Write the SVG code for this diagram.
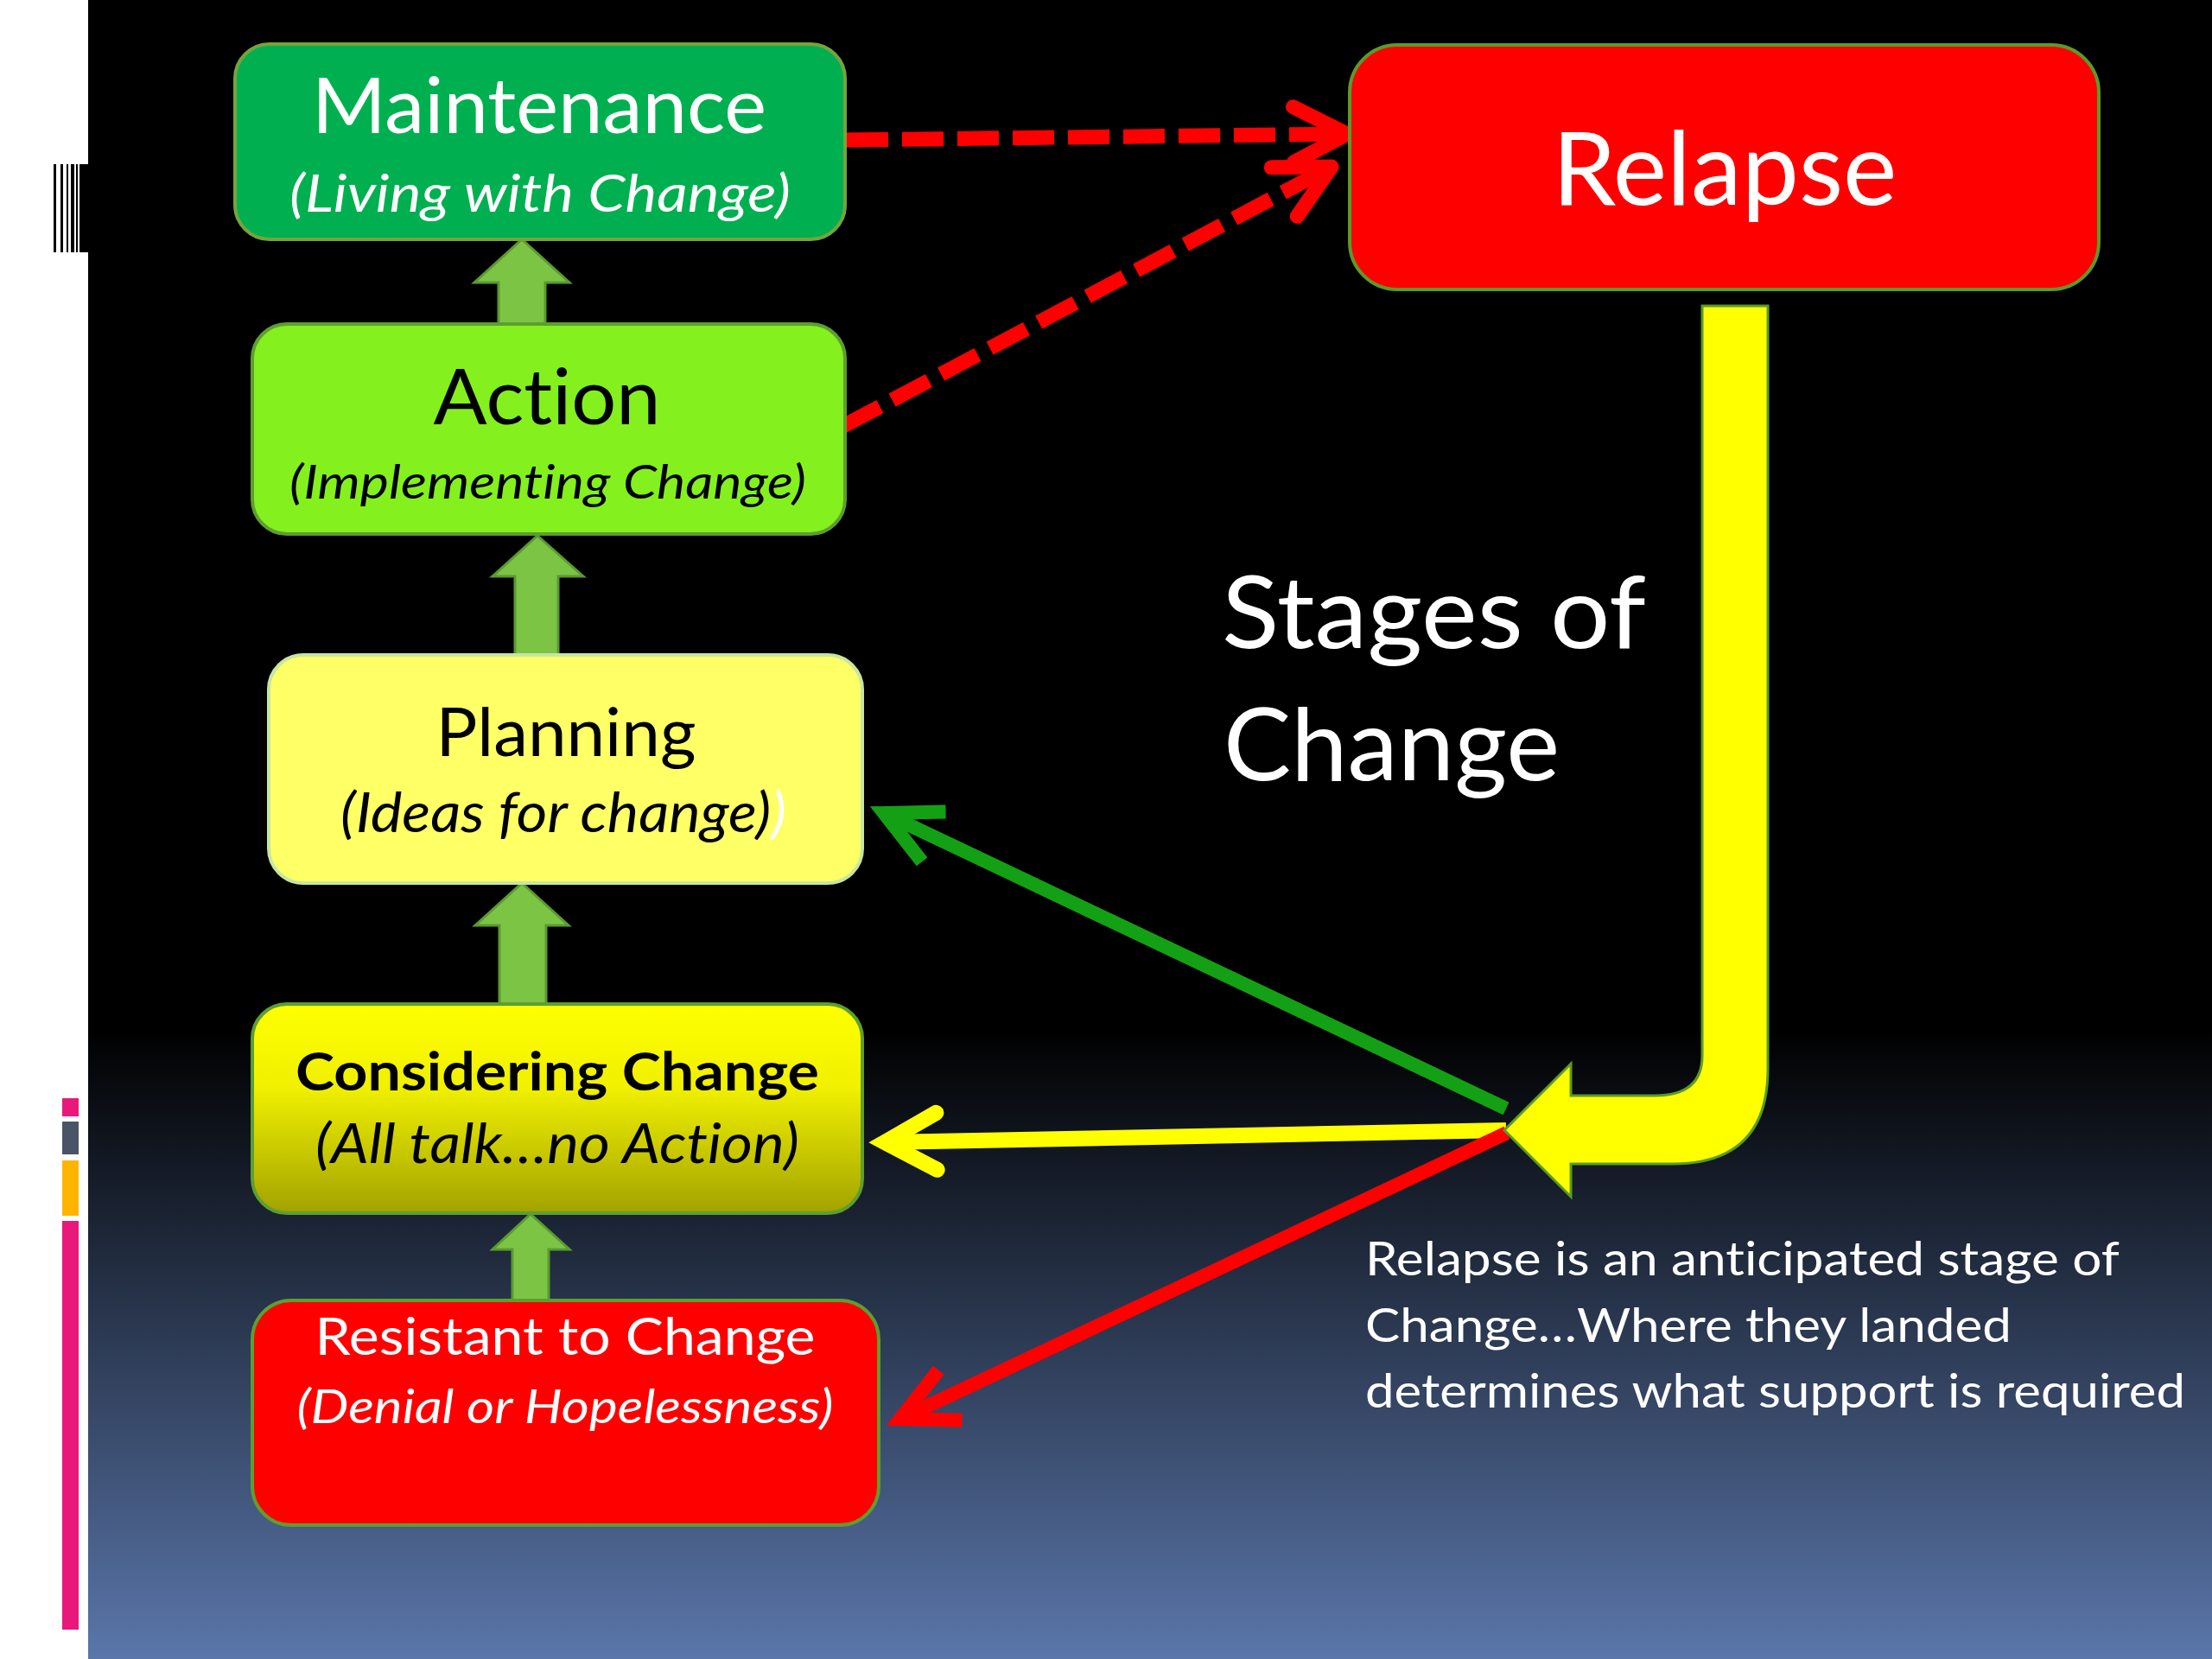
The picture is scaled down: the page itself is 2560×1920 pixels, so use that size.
<svg xmlns="http://www.w3.org/2000/svg" width="2560" height="1920" viewBox="0 0 2560 1920">
<defs>
  <linearGradient id="bg" x1="0" y1="0" x2="0" y2="1920" gradientUnits="userSpaceOnUse">
    <stop offset="0" stop-color="#000000"/>
    <stop offset="0.62" stop-color="#000000"/>
    <stop offset="1" stop-color="#5a76aa"/>
  </linearGradient>
  <linearGradient id="consider" x1="0" y1="1162" x2="0" y2="1404" gradientUnits="userSpaceOnUse">
    <stop offset="0" stop-color="#ffff00"/>
    <stop offset="0.4" stop-color="#f0f000"/>
    <stop offset="1" stop-color="#a2a200"/>
  </linearGradient>
  <marker id="mDash" markerUnits="userSpaceOnUse" markerWidth="10" markerHeight="10" orient="auto" overflow="visible" refX="0" refY="0">
    <path d="M -62 -32 L 0 0 L -62 32" fill="none" stroke="#ff0000" stroke-width="17" stroke-linecap="round" stroke-linejoin="round"/>
  </marker>
  <marker id="mGreen" markerUnits="userSpaceOnUse" markerWidth="10" markerHeight="10" orient="auto" overflow="visible" refX="0" refY="0">
    <path d="M -64 -32 L 0 0 L -64 32" fill="none" stroke="#14a014" stroke-width="16" stroke-linejoin="miter"/>
  </marker>
  <marker id="mYellow" markerUnits="userSpaceOnUse" markerWidth="10" markerHeight="10" orient="auto" overflow="visible" refX="0" refY="0">
    <path d="M -60 -33 L 0 0 L -60 33" fill="none" stroke="#ffff00" stroke-width="18" stroke-linecap="round" stroke-linejoin="miter"/>
  </marker>
  <marker id="mRed" markerUnits="userSpaceOnUse" markerWidth="10" markerHeight="10" orient="auto" overflow="visible" refX="0" refY="0">
    <path d="M -64 -32 L 0 0 L -64 32" fill="none" stroke="#ff0000" stroke-width="16" stroke-linejoin="miter"/>
  </marker>
</defs>
<style>
  text { font-variant-ligatures: none; }
  .box { stroke-width: 4; }
  .t { font-family: "Lato", "Liberation Sans", Arial, sans-serif; text-anchor: middle; }
  .it { font-style: italic; }
  .up { fill: #7cc444; stroke: #5a9a32; stroke-width: 3; }
  .dash { fill: none; stroke: #ff0000; stroke-width: 17; stroke-dasharray: 48 16; }
</style>

<!-- background -->
<rect x="0" y="0" width="2560" height="1920" fill="#ffffff"/>
<rect x="102" y="0" width="2458" height="1920" fill="url(#bg)"/>

<!-- left decorations -->
<g id="barcode" fill="#000000">
  <rect x="62" y="190" width="3" height="102"/>
  <rect x="70" y="190" width="3" height="102"/>
  <rect x="77" y="190" width="2" height="102"/>
  <rect x="82" y="190" width="4" height="102"/>
  <rect x="88" y="190" width="2" height="102"/>
  <rect x="92" y="190" width="10" height="102"/>
</g>
<g id="colorbars">
  <rect x="72" y="1271" width="19" height="21" fill="#e8197a"/>
  <rect x="72" y="1298" width="19" height="38" fill="#4a5466"/>
  <rect x="72" y="1343" width="19" height="64" fill="#ffb400"/>
  <rect x="72" y="1413" width="19" height="473" fill="#e8197a"/>
</g>

<!-- connectors -->
<g id="connectors">
  <path class="dash" d="M 980 162 L 1559 155" marker-end="url(#mDash)"/>
  <path class="dash" d="M 976 493 L 1541 193" marker-end="url(#mDash)"/>
  <path d="M 1743 1283 L 1023 941" fill="none" stroke="#14a014" stroke-width="16" marker-end="url(#mGreen)"/>
  <path d="M 1743 1308 L 1024 1322" fill="none" stroke="#ffff00" stroke-width="18" marker-end="url(#mYellow)"/>
  <path d="M 1744 1311 L 1042 1642" fill="none" stroke="#ff0000" stroke-width="16" marker-end="url(#mRed)"/>
  <!-- up arrows -->
  <path class="up" d="M 604 277 L 659 327 L 631 327 L 631 375 L 577 375 L 577 327 L 549 327 Z"/>
  <path class="up" d="M 622 620 L 675 667 L 646 667 L 646 758 L 596 758 L 596 667 L 570 667 Z"/>
  <path class="up" d="M 604 1022 L 658 1071 L 632 1071 L 632 1162 L 578 1162 L 578 1071 L 550 1071 Z"/>
  <path class="up" d="M 614 1405 L 659 1446 L 635 1446 L 635 1505 L 593 1505 L 593 1446 L 570 1446 Z"/>
  <!-- big curved yellow arrow from Relapse -->
  <path d="M 1970 354 L 2046 354 L 2046 1237 Q 2046 1347 1936 1347 L 1818 1347 L 1818 1385 L 1741 1308 L 1818 1231 L 1818 1268 L 1915 1268 Q 1970 1268 1970 1222 Z" fill="#ffff00" stroke="#5a9a2b" stroke-width="3"/>
</g>

<!-- nodes -->
<g id="maintenance">
  <rect class="box" x="272" y="51" width="706" height="226" rx="40" fill="#00b050" stroke="#77a33b"/>
  <text class="t" x="624" y="154" font-size="90" fill="#ffffff" textLength="526" lengthAdjust="spacingAndGlyphs">Maintenance</text>
  <text class="t it" x="625" y="245" font-size="60" fill="#ffffff" textLength="580" lengthAdjust="spacingAndGlyphs">(Living with Change)</text>
</g>
<g id="action">
  <rect class="box" x="292" y="375" width="686" height="243" rx="40" fill="#84f01e" stroke="#5e9e30"/>
  <text class="t" x="633" y="491" font-size="90" fill="#000000" textLength="263" lengthAdjust="spacingAndGlyphs">Action</text>
  <text class="t it" x="634" y="577" font-size="55" fill="#000000" textLength="598" lengthAdjust="spacingAndGlyphs">(Implementing Change)</text>
</g>
<g id="planning">
  <rect class="box" x="311" y="758" width="687" height="264" rx="40" fill="#ffff66" stroke="#c8e6a0"/>
  <text class="t" x="655" y="875" font-size="78" fill="#000000" textLength="301" lengthAdjust="spacingAndGlyphs">Planning</text>
  <text class="t it" x="652" y="963" font-size="64" fill="#000000" textLength="516" lengthAdjust="spacingAndGlyphs">(Ideas for change)<tspan fill="#ffffff">)</tspan></text>
</g>
<g id="considering">
  <rect class="box" x="292" y="1162" width="706" height="242" rx="40" fill="url(#consider)" stroke="#5e9e30"/>
  <text class="t" x="645" y="1262" font-size="62" font-weight="bold" fill="#000000" textLength="606" lengthAdjust="spacingAndGlyphs">Considering Change</text>
  <text class="t it" x="645" y="1346" font-size="64" fill="#000000" textLength="560" lengthAdjust="spacingAndGlyphs">(All talk…no Action)</text>
</g>
<g id="resistant">
  <rect class="box" x="292" y="1505" width="725" height="260" rx="45" fill="#ff0000" stroke="#5e9e30"/>
  <text class="t" x="654" y="1568" font-size="60" fill="#ffffff" textLength="579" lengthAdjust="spacingAndGlyphs">Resistant to Change</text>
  <text class="t it" x="654" y="1647" font-size="55" fill="#ffffff" textLength="621" lengthAdjust="spacingAndGlyphs">(Denial or Hopelessness)</text>
</g>
<g id="relapse">
  <rect class="box" x="1562" y="52" width="867" height="283" rx="55" fill="#ff0000" stroke="#5b9a2b"/>
  <text class="t" x="1996" y="237" font-size="118" fill="#ffffff" textLength="399" lengthAdjust="spacingAndGlyphs">Relapse</text>
</g>

<!-- free text -->
<g id="title" font-family="Lato, 'Liberation Sans', Arial, sans-serif" fill="#ffffff" font-size="116">
  <text x="1414" y="750" textLength="491" lengthAdjust="spacingAndGlyphs">Stages of</text>
  <text x="1416" y="903" textLength="389" lengthAdjust="spacingAndGlyphs">Change</text>
</g>
<g id="note" font-family="Lato, 'Liberation Sans', Arial, sans-serif" fill="#ffffff" font-size="55">
  <text x="1580" y="1476" textLength="873" lengthAdjust="spacingAndGlyphs">Relapse is an anticipated stage of</text>
  <text x="1580" y="1553" textLength="748" lengthAdjust="spacingAndGlyphs">Change…Where they landed</text>
  <text x="1580" y="1629" textLength="949" lengthAdjust="spacingAndGlyphs">determines what support is required</text>
</g>
</svg>
